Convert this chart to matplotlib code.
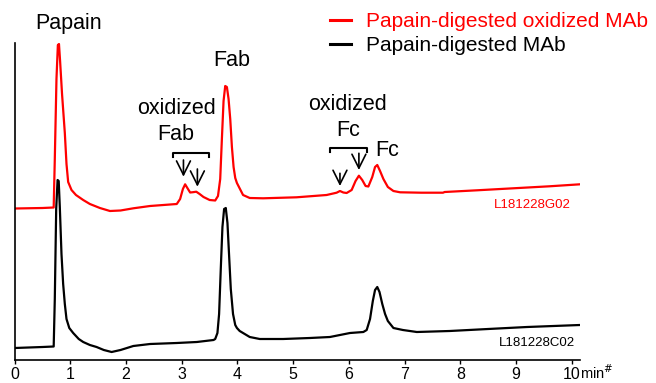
import numpy as np
import matplotlib
matplotlib.use('Agg')
import matplotlib.pyplot as plt
from matplotlib.lines import Line2D

plt.rcParams['font.family'] = ['Liberation Sans', 'DejaVu Sans']

# retention time (min) and detector signal (arbitrary)
t_mab = [0.0, 0.5, 0.70, 0.72, 0.745, 0.77, 0.79, 0.81, 0.84, 0.87, 0.90, 0.93, 0.98, 1.05, 1.15,
         1.23, 1.35, 1.47, 1.6, 1.74, 1.9, 2.13, 2.43, 2.91, 3.27, 3.57, 3.60, 3.64, 3.67, 3.70,
         3.73, 3.76, 3.79, 3.82, 3.85, 3.88, 3.92, 3.96, 3.99, 4.04, 4.22, 4.4, 4.82, 5.3, 5.66,
         6.02, 6.26, 6.32, 6.38, 6.43, 6.47, 6.51, 6.55, 6.60, 6.65, 6.70, 6.8, 6.97, 7.22, 7.81,
         8.5, 9.2, 10.15]
y_mab = [11, 12, 12.5, 60, 150, 179, 178, 152, 105, 75, 55, 40, 31, 26, 20,
         17, 14, 12, 9, 7, 9, 13, 15, 16, 17, 19, 20, 26, 45, 90,
         132, 150, 151, 136, 103, 70, 45, 34, 31, 28, 22, 20, 20, 21, 22,
         26, 27, 29, 40, 58, 69, 72, 67, 55, 45, 38, 31, 29, 27, 28,
         30, 32, 34]

t_ox = [0.0, 0.5, 0.70, 0.72, 0.75, 0.775, 0.795, 0.815, 0.85, 0.90, 0.93, 0.96, 1.02, 1.1, 1.23,
        1.35, 1.53, 1.71, 1.9, 2.13, 2.43, 2.91, 2.97, 3.02, 3.06, 3.10, 3.15, 3.20, 3.26, 3.32,
        3.39, 3.5, 3.60, 3.65, 3.69, 3.72, 3.75, 3.78, 3.81, 3.84, 3.87, 3.90, 3.93, 3.96, 3.99,
        4.1, 4.22, 4.46, 5.06, 5.6, 5.78, 5.84, 5.90, 5.96, 6.05, 6.12, 6.18, 6.24, 6.30, 6.35,
        6.42, 6.47, 6.51, 6.56, 6.62, 6.70, 6.80, 6.92, 7.3, 7.69, 7.72, 8.3, 8.95, 9.6, 10.15]
y_ox = [150.5, 151, 151.5, 200, 280, 314, 315, 298, 265, 226, 195, 177, 169, 164, 159,
        155, 151, 148, 148.5, 150.7, 153, 155, 160, 170, 174.7, 171, 166.5, 166.8, 167.3, 165,
        162, 159, 158.5, 163, 180, 220, 258, 273, 272, 260, 240, 212, 192, 181, 176,
        164, 161, 160.7, 161.7, 164, 166.3, 168, 166.5, 166, 169, 178, 183.3, 179, 173, 172.5,
        182, 192, 194, 188, 180, 172, 168, 166.7, 166.3, 166.3, 167, 168.7, 170.7, 172.7, 174.7]

xticks = list(range(0, 11))

fig = plt.figure(figsize=(6.56, 3.83), dpi=100)
ax = fig.add_axes([14.7 / 656, 23 / 383, (580 - 14.7) / 656, (360 - 43) / 383])

ax.plot(t_ox, y_ox, color='#ff0000', lw=1.6, solid_joinstyle='round')
ax.plot(t_mab, y_mab, color='black', lw=1.6, solid_joinstyle='round')

ax.set_xlim(0, 10.15)
ax.set_ylim(-1, 316)
ax.spines['top'].set_visible(False)
ax.spines['right'].set_visible(False)
ax.spines['left'].set_linewidth(1.2)
ax.spines['bottom'].set_linewidth(1.2)
ax.set_yticks([])
ax.set_xticks(xticks)
ax.tick_params(axis='x', direction='out', length=3, width=1, labelsize=11.5, pad=2)
ax.text(10.15, -14, 'min$^{\\#}$', fontsize=10.5, ha='left', va='center', clip_on=False)

# peak labels
fs = 15.5
ax.text(0.96, 336, 'Papain', fontsize=fs, ha='center', va='center', clip_on=False)
ax.text(3.90, 299, 'Fab', fontsize=fs, ha='center', va='center')
ax.text(2.91, 251, 'oxidized', fontsize=fs, ha='center', va='center')
ax.text(2.90, 224, 'Fab', fontsize=fs, ha='center', va='center')
ax.text(5.97, 255, 'oxidized', fontsize=fs, ha='center', va='center')
ax.text(5.98, 228, 'Fc', fontsize=fs, ha='center', va='center')
ax.text(6.68, 208, 'Fc', fontsize=fs, ha='center', va='center')
ax.text(9.29, 154, 'L181228G02', fontsize=9.5, color='#ff0000', ha='center', va='center')
ax.text(9.38, 16, 'L181228C02', fontsize=9.5, ha='center', va='center')

# brackets and arrows
ax.plot([2.85, 2.85, 3.49, 3.49], [201.7, 205.7, 205.7, 201.7], color='black', lw=1.5)
ax.plot([5.67, 5.67, 6.32, 6.32], [207.3, 211.3, 211.3, 207.3], color='black', lw=1.5)
arrows = [(3.03, 199, 182.3), (3.28, 190, 172.3), (5.84, 185.7, 173), (6.18, 205.7, 189)]
for x, y0, y1 in arrows:
    ax.annotate('', xy=(x, y1), xytext=(x, y0),
                arrowprops=dict(arrowstyle='->, head_length=0.5, head_width=0.25', color='black',
                                lw=1.2, mutation_scale=20, shrinkA=0, shrinkB=0))

handles = [Line2D([], [], color='#ff0000', lw=2.2), Line2D([], [], color='black', lw=2.2)]
leg = fig.legend(handles, ['Papain-digested oxidized MAb', 'Papain-digested MAb'],
                 loc='upper left', bbox_to_anchor=(330 / 656, 1 - 12 / 383), frameon=False,
                 fontsize=15, borderaxespad=0, borderpad=0, handlelength=1.0,
                 handletextpad=0.75, labelspacing=0.25)
leg.get_texts()[0].set_color('#ff0000')

fig.savefig('out.png', dpi=100)
